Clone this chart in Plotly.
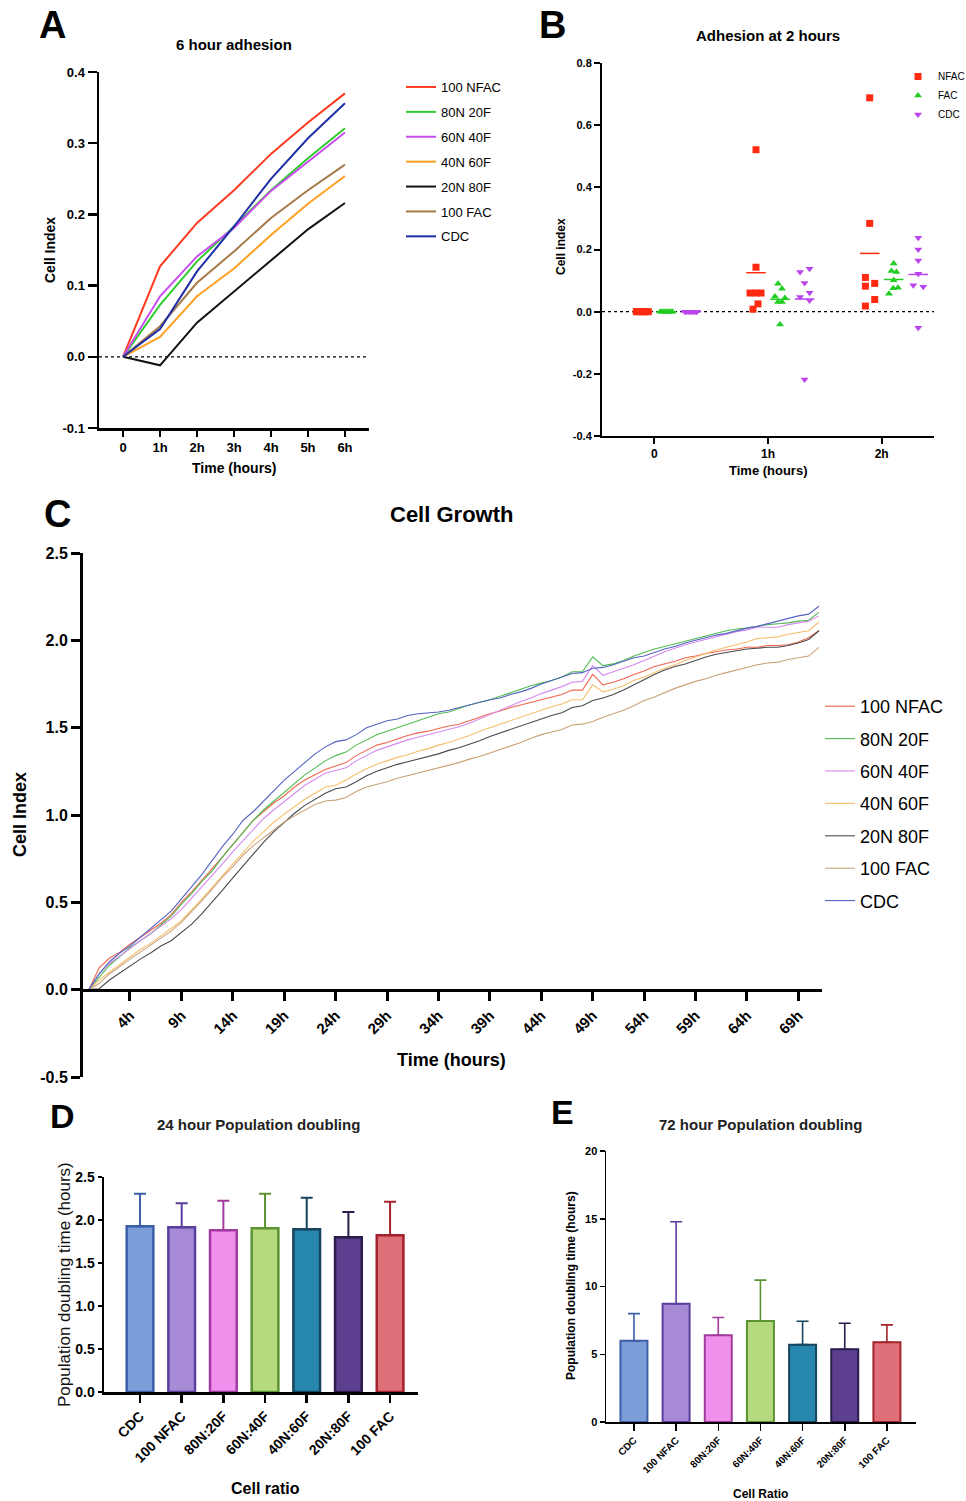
import plotly.graph_objects as go
import numpy as np

W, H = 966, 1501
def X(px): return px / W
def Y(py): return 1 - py / H

FONT = "Liberation Sans, Arial, sans-serif"

# ---------------- Panel A data ----------------
A_TIMES = ["0", "1h", "2h", "3h", "4h", "5h", "6h"]
A_NAMES = ["100 NFAC", "80N 20F", "60N 40F", "40N 60F", "20N 80F", "100 FAC", "CDC"]
A_100NFAC = [0, 0.127, 0.188, 0.234, 0.285, 0.329, 0.370]
A_80N20F = [0, 0.073, 0.134, 0.183, 0.234, 0.279, 0.321]
A_60N40F = [0, 0.085, 0.141, 0.181, 0.233, 0.274, 0.315]
A_40N60F = [0, 0.028, 0.085, 0.124, 0.171, 0.215, 0.254]
A_20N80F = [0, -0.012, 0.048, 0.092, 0.136, 0.179, 0.216]
A_100FAC = [0, 0.043, 0.104, 0.148, 0.195, 0.234, 0.270]
A_CDC = [0, 0.039, 0.120, 0.183, 0.250, 0.307, 0.356]
A_YTICKS = [-0.1, 0.0, 0.1, 0.2, 0.3, 0.4]
A_COLORS = ["#FF3A20", "#2ECC2E", "#C94CF0", "#FFA022", "#111111", "#A57A48", "#1F2FA8"]

# ---------------- Panel B data ----------------
B_GROUPS = ["0", "1h", "2h"]
B_NAMES = ["NFAC", "FAC", "CDC"]
B_NFAC = [[0, 0, 0, 0, 0, 0, 0],
          [0.521, 0.143, 0.060, 0.060, 0.060, 0.025, 0.008],
          [0.688, 0.284, 0.110, 0.082, 0.091, 0.039, 0.018]]
B_FAC = [[0, 0, 0, 0, 0, 0, 0],
         [0.090, 0.074, 0.049, 0.044, 0.031, 0.031, -0.041],
         [0.155, 0.131, 0.128, 0.101, 0.077, 0.075, 0.058]]
B_CDC = [[0, 0, 0, 0, 0, 0, 0],
         [0.128, 0.138, 0.092, 0.061, 0.047, 0.036, -0.218],
         [0.238, 0.200, 0.165, 0.122, 0.085, 0.080, -0.052]]
B_YTICKS = [-0.4, -0.2, 0.0, 0.2, 0.4, 0.6, 0.8]
B_COLORS = ["#FF2A10", "#22CC22", "#BB44EE"]
B_SYMBOLS = ["square", "triangle-up", "triangle-down"]
# style: horizontal placement (pixels) of each series and point spread
B_SERIES_OFFSET_PX = [-12, 12, 36.6]
B_SPREAD_PX = {
    "NFAC": [[-6, -4, -2, 0, 2, 4, 6], [0, 0, -6, 0, 5, 2, -3], [0, 0, -4.3, -4.3, 5, 5, -4.3]],
    "FAC": [[-6, -4, -2, 0, 2, 4, 6], [-2, 2, -5, 5, -2, 2, 0], [0, -2.3, 2.7, 0, 4.3, -0.5, -4.7]],
    "CDC": [[-6, -4, -2, 0, 2, 4, 6], [-4.5, 5, 0, 5, -4.5, 5, 0], [0, 0, 0, 0, -5, 5, 0]],
}
B_PX_PER_UNIT = 113.8

# ---------------- Panel C data ----------------
C_HOURS = list(range(72))
C_TICKS = [4, 9, 14, 19, 24, 29, 34, 39, 44, 49, 54, 59, 64, 69]
C_TICKTEXT = [f"{t}h" for t in C_TICKS]
C_YTICKS = [-0.5, 0.0, 0.5, 1.0, 1.5, 2.0, 2.5]
C_100NFAC = [0, 0.125, 0.18, 0.215, 0.26, 0.30, 0.34, 0.38, 0.43, 0.50,
             0.56, 0.625, 0.69, 0.76, 0.83, 0.90, 0.97, 1.02, 1.07, 1.11,
             1.16, 1.20, 1.23, 1.26, 1.28, 1.30, 1.34, 1.37, 1.40, 1.415,
             1.435, 1.455, 1.47, 1.48, 1.495, 1.51, 1.52, 1.54, 1.56, 1.58,
             1.595, 1.615, 1.63, 1.645, 1.66, 1.675, 1.69, 1.715, 1.715, 1.805,
             1.745, 1.76, 1.78, 1.805, 1.825, 1.85, 1.865, 1.88, 1.90, 1.91,
             1.925, 1.935, 1.945, 1.95, 1.96, 1.96, 1.97, 1.97, 1.975, 1.99,
             2.015, 2.055]
C_80N20F = [0, 0.07, 0.14, 0.19, 0.24, 0.28, 0.32, 0.37, 0.42, 0.49,
            0.55, 0.62, 0.68, 0.76, 0.83, 0.90, 0.97, 1.03, 1.08, 1.135,
            1.18, 1.23, 1.27, 1.31, 1.34, 1.36, 1.40, 1.43, 1.46, 1.48,
            1.50, 1.52, 1.54, 1.56, 1.58, 1.59, 1.61, 1.63, 1.645, 1.66,
            1.68, 1.70, 1.72, 1.74, 1.755, 1.77, 1.79, 1.82, 1.82, 1.905,
            1.855, 1.865, 1.885, 1.91, 1.93, 1.95, 1.965, 1.98, 1.995, 2.01,
            2.025, 2.04, 2.055, 2.065, 2.07, 2.08, 2.09, 2.095, 2.10, 2.11,
            2.115, 2.16]
C_60N40F = [0, 0.09, 0.15, 0.19, 0.235, 0.28, 0.32, 0.36, 0.405, 0.46,
            0.525, 0.585, 0.655, 0.72, 0.79, 0.855, 0.92, 0.98, 1.03, 1.075,
            1.125, 1.17, 1.205, 1.24, 1.255, 1.27, 1.31, 1.34, 1.37, 1.39,
            1.41, 1.43, 1.445, 1.46, 1.475, 1.49, 1.505, 1.525, 1.55, 1.575,
            1.60, 1.625, 1.65, 1.67, 1.695, 1.715, 1.735, 1.76, 1.765, 1.855,
            1.80, 1.82, 1.84, 1.86, 1.885, 1.91, 1.935, 1.955, 1.975, 1.99,
            2.005, 2.02, 2.035, 2.05, 2.06, 2.075, 2.075, 2.075, 2.09, 2.10,
            2.11, 2.14]
C_40N60F = [0, 0.055, 0.10, 0.145, 0.185, 0.23, 0.265, 0.305, 0.35, 0.395,
            0.455, 0.52, 0.585, 0.655, 0.72, 0.785, 0.85, 0.905, 0.96, 1.005,
            1.05, 1.09, 1.125, 1.16, 1.17, 1.20, 1.235, 1.265, 1.29, 1.31,
            1.33, 1.345, 1.365, 1.38, 1.40, 1.415, 1.435, 1.455, 1.48, 1.50,
            1.52, 1.54, 1.56, 1.58, 1.60, 1.62, 1.635, 1.66, 1.66, 1.745,
            1.705, 1.72, 1.74, 1.77, 1.79, 1.815, 1.84, 1.86, 1.885, 1.905,
            1.925, 1.945, 1.96, 1.975, 1.99, 2.01, 2.015, 2.02, 2.035, 2.045,
            2.055, 2.105]
C_20N80F = [0, 0.005, 0.055, 0.095, 0.14, 0.175, 0.21, 0.25, 0.28, 0.325,
            0.375, 0.435, 0.50, 0.57, 0.64, 0.71, 0.78, 0.845, 0.905, 0.96,
            1.01, 1.055, 1.09, 1.125, 1.15, 1.16, 1.19, 1.225, 1.25, 1.27,
            1.29, 1.305, 1.32, 1.335, 1.35, 1.37, 1.385, 1.405, 1.425, 1.45,
            1.47, 1.49, 1.51, 1.53, 1.55, 1.57, 1.585, 1.615, 1.625, 1.655,
            1.67, 1.69, 1.715, 1.745, 1.775, 1.805, 1.83, 1.85, 1.865, 1.885,
            1.905, 1.92, 1.93, 1.94, 1.95, 1.955, 1.96, 1.96, 1.97, 1.985,
            2.005, 2.055]
C_100FAC = [0, 0.035, 0.09, 0.135, 0.175, 0.215, 0.255, 0.29, 0.335, 0.385,
            0.445, 0.51, 0.575, 0.645, 0.705, 0.77, 0.825, 0.87, 0.915, 0.96,
            0.995, 1.03, 1.06, 1.08, 1.085, 1.10, 1.135, 1.16, 1.175, 1.19,
            1.21, 1.225, 1.24, 1.255, 1.27, 1.285, 1.30, 1.32, 1.335, 1.355,
            1.375, 1.395, 1.415, 1.44, 1.46, 1.475, 1.49, 1.515, 1.52, 1.535,
            1.56, 1.58, 1.60, 1.625, 1.655, 1.675, 1.70, 1.725, 1.745, 1.765,
            1.78, 1.80, 1.815, 1.83, 1.845, 1.86, 1.87, 1.875, 1.89, 1.90,
            1.91, 1.96]
C_CDC = [0, 0.09, 0.16, 0.21, 0.25, 0.30, 0.35, 0.40, 0.45, 0.52,
         0.59, 0.66, 0.74, 0.82, 0.89, 0.97, 1.02, 1.08, 1.14, 1.20,
         1.25, 1.30, 1.35, 1.39, 1.42, 1.43, 1.46, 1.50, 1.52, 1.54,
         1.55, 1.57, 1.58, 1.585, 1.59, 1.60, 1.615, 1.63, 1.645, 1.66,
         1.67, 1.69, 1.705, 1.725, 1.75, 1.77, 1.79, 1.81, 1.815, 1.84,
         1.845, 1.86, 1.88, 1.90, 1.91, 1.93, 1.95, 1.965, 1.985, 2.0,
         2.015, 2.03, 2.04, 2.055, 2.07, 2.08, 2.095, 2.11, 2.125, 2.14,
         2.15, 2.195]
C_COLORS = ["#EE6650", "#50BB50", "#D58AF0", "#F6BE6A", "#4A4A4A", "#C9A27A", "#5563C1"]

# ---------------- Panel D / E data ----------------
DE_CATS = ["CDC", "100 NFAC", "80N:20F", "60N:40F", "40N:60F", "20N:80F", "100 FAC"]
D_MEAN = [1.926, 1.915, 1.880, 1.903, 1.891, 1.798, 1.822]
D_UPPER = [2.306, 2.194, 2.225, 2.306, 2.260, 2.093, 2.213]
E_MEAN = [5.99, 8.72, 6.40, 7.46, 5.71, 5.37, 5.89]
E_UPPER = [8.00, 14.78, 7.71, 10.47, 7.44, 7.29, 7.17]
DE_FILL = ["#7B9ED9", "#A68AD6", "#EE90EC", "#B5DB7E", "#2787AF", "#5C3F8E", "#DF6F78"]
DE_LINE = ["#3D5FA8", "#5B3F9E", "#A33AA0", "#5C9434", "#17455F", "#2B1C4B", "#A3222C"]

def fmt(v):
    return f"{v:.1f}"

fig = go.Figure()

# ---- Panel A traces ----
A_VALUES = [A_100NFAC, A_80N20F, A_60N40F, A_40N60F, A_20N80F, A_100FAC, A_CDC]
for i, (name, vals) in enumerate(zip(A_NAMES, A_VALUES)):
    fig.add_trace(go.Scatter(x=A_TIMES, y=vals, mode="lines", name=name,
                             line=dict(color=A_COLORS[i], width=2),
                             xaxis="x", yaxis="y", legend="legend",
                             legendgroup=f"a{i}"))

# ---- Panel B traces ----
B_VALUES = {"NFAC": B_NFAC, "FAC": B_FAC, "CDC": B_CDC}
for s, name in enumerate(B_NAMES):
    xs, ys, mx, my = [], [], [], []
    for g in range(len(B_GROUPS)):
        vals = B_VALUES[name][g]
        spread = B_SPREAD_PX[name][g]
        for v, sp in zip(vals, spread):
            xs.append(g + (B_SERIES_OFFSET_PX[s] + sp) / B_PX_PER_UNIT)
            ys.append(v)
        mx.append(g + B_SERIES_OFFSET_PX[s] / B_PX_PER_UNIT)
        my.append(float(np.mean(vals)))
    fig.add_trace(go.Scatter(x=xs, y=ys, mode="markers", name=name,
                             marker=dict(symbol=B_SYMBOLS[s], size=7, color=B_COLORS[s]),
                             xaxis="x2", yaxis="y2", legend="legend2",
                             legendgroup=f"b{s}"))
    fig.add_trace(go.Scatter(x=mx, y=my, mode="markers", showlegend=False,
                             marker=dict(symbol="line-ew", size=14,
                                         line=dict(color=B_COLORS[s], width=1.5)),
                             xaxis="x2", yaxis="y2"))

# ---- Panel C traces ----
C_VALUES = [C_100NFAC, C_80N20F, C_60N40F, C_40N60F, C_20N80F, C_100FAC, C_CDC]
for i, (name, vals) in enumerate(zip(A_NAMES, C_VALUES)):
    fig.add_trace(go.Scatter(x=C_HOURS, y=vals, mode="lines", name=name,
                             line=dict(color=C_COLORS[i], width=1.1),
                             xaxis="x3", yaxis="y3", legend="legend3",
                             legendgroup=f"c{i}"))

# ---- Panel D / E bars ----
for ax, means, uppers in (("4", D_MEAN, D_UPPER), ("5", E_MEAN, E_UPPER)):
    for i, cat in enumerate(DE_CATS):
        fig.add_trace(go.Bar(
            x=[cat], y=[means[i]], width=0.64, showlegend=False,
            marker=dict(color=DE_FILL[i], line=dict(color=DE_LINE[i], width=2.5 if ax == "4" else 2)),
            error_y=dict(type="data", symmetric=False, array=[uppers[i] - means[i]],
                         arrayminus=[0], color=DE_LINE[i],
                         thickness=2 if ax == "4" else 1.6, width=6),
            xaxis="x" + ax, yaxis="y" + ax))

bold = dict(family=FONT, color="black", weight="bold")

def axis_common(lw):
    return dict(showgrid=False, zeroline=False, showline=True, linecolor="black",
                linewidth=lw, ticks="outside", tickcolor="black", tickwidth=lw,
                automargin=False)

layout = dict(
    template="none",
    width=W, height=H, margin=dict(l=0, r=0, t=0, b=0, pad=0, autoexpand=False),
    paper_bgcolor="white", plot_bgcolor="white", hovermode=False,
    barmode="overlay", font=dict(family=FONT, color="black"),
    # Panel A
    xaxis=dict(domain=[X(99), X(369)], anchor="y", type="category",
               range=[-0.65, 6.65], ticklen=6, tickfont=dict(size=13, **bold),
               **axis_common(2.5)),
    yaxis=dict(domain=[Y(428), Y(72)], anchor="x", range=[-0.1, 0.4],
               tickvals=A_YTICKS, ticktext=[fmt(v) for v in A_YTICKS],
               ticklen=9, tickfont=dict(size=13, **bold), **axis_common(2.5)),
    # Panel B
    xaxis2=dict(domain=[X(602), X(934)], anchor="y2", range=[-0.46, 2.46],
                tickvals=[0, 1, 2], ticktext=B_GROUPS, ticklen=6,
                tickfont=dict(size=12, **bold), **axis_common(2)),
    yaxis2=dict(domain=[Y(436), Y(63)], anchor="x2", range=[-0.4, 0.8],
                tickvals=B_YTICKS, ticktext=[fmt(v) for v in B_YTICKS], ticklen=6,
                tickfont=dict(size=11, **bold), **axis_common(2)),
    # Panel C
    xaxis3=dict(domain=[X(83), X(822)], anchor="free", position=Y(990),
                range=[-0.57, 71.3], tickvals=C_TICKS, ticktext=C_TICKTEXT,
                tickangle=-45, ticklen=9, tickfont=dict(size=15, **bold),
                **axis_common(3)),
    yaxis3=dict(domain=[Y(1077), Y(553)], anchor="x3", range=[-0.5, 2.5],
                tickvals=C_YTICKS, ticktext=[fmt(v) for v in C_YTICKS], ticklen=9,
                tickfont=dict(size=16, **bold), **axis_common(3)),
    # Panel D
    xaxis4=dict(domain=[X(104), X(418)], anchor="y4", type="category",
                range=[-0.864, 6.67], tickangle=-45, ticklen=8,
                tickfont=dict(size=14, **bold), **axis_common(2.5)),
    yaxis4=dict(domain=[Y(1392), Y(1177)], anchor="x4", range=[0, 2.5],
                dtick=0.5, tickformat=".1f", ticklen=4,
                tickfont=dict(size=14, **bold), **axis_common(2.5)),
    # Panel E
    xaxis5=dict(domain=[X(606), X(916)], anchor="y5", type="category",
                range=[-0.663, 6.69], tickangle=-45, ticklen=7,
                tickfont=dict(size=10, **bold), **axis_common(1.5)),
    yaxis5=dict(domain=[Y(1422), Y(1151)], anchor="x5", range=[0, 20],
                dtick=5, ticklen=5, tickfont=dict(size=11, **bold),
                **axis_common(1.5)),
    legend=dict(x=X(401), y=Y(72), xanchor="left", yanchor="top",
                font=dict(size=13, family=FONT, color="black"),
                tracegroupgap=5, bgcolor="rgba(0,0,0,0)"),
    legend2=dict(x=X(898), y=Y(62), xanchor="left", yanchor="top",
                 font=dict(size=10, family=FONT, color="black"),
                 tracegroupgap=0, bgcolor="rgba(0,0,0,0)"),
    legend3=dict(x=X(820), y=Y(688), xanchor="left", yanchor="top",
                 font=dict(size=18, family=FONT, color="black"),
                 tracegroupgap=6, bgcolor="rgba(0,0,0,0)"),
)
fig.update_layout(**layout)

# zero reference lines (dotted) in A and B
for xr, yr in (("x domain", "y"), ("x2 domain", "y2")):
    fig.add_shape(type="line", xref=xr, yref=yr, x0=0, x1=1, y0=0, y1=0,
                  line=dict(color="black", width=1.2, dash="dot"), layer="below")

def ann(text, px, py, size, angle=0, weight=True, color="black"):
    fig.add_annotation(text=f"<b>{text}</b>" if weight else text,
                       x=X(px), y=Y(py), xref="paper", yref="paper",
                       showarrow=False, textangle=angle,
                       xanchor="center", yanchor="middle",
                       font=dict(size=size, family=FONT, color=color))

# panel letters
ann("A", 52, 25, 38)
ann("B", 552, 25, 38)
ann("C", 57, 514, 38)
ann("D", 62, 1116, 34)
ann("E", 562, 1112, 34)
# titles
ann("6 hour adhesion", 234, 44, 15)
ann("Adhesion at 2 hours", 768, 36, 15)
ann("Cell Growth", 451, 514, 22)
ann("24 hour Population doubling", 258, 1124, 15, color="#222")
ann("72 hour Population doubling", 760, 1124, 15, color="#222")
# axis titles
ann("Cell Index", 50, 250, 14, angle=-90)
ann("Time (hours)", 234, 468, 14)
ann("Cell index", 561, 247, 12, angle=-90)
ann("Time (hours)", 768, 471, 13)
ann("Cell Index", 20, 815, 18, angle=-90)
ann("Time (hours)", 451, 1060, 18)
ann("Population doubling time (hours)", 64, 1285, 17, angle=-90, weight=False, color="#111")
ann("Cell ratio", 265, 1488, 16)
ann("Population doubling time (hours)", 571, 1286, 12, angle=-90)
ann("Cell Ratio", 760, 1494, 12)

# remove the default page margin so the 966x1501 figure fills the window exactly
PAGE_CSS_JS = ("document.documentElement.style.margin='0';"
               "document.documentElement.style.overflow='hidden';"
               "document.body.style.margin='0';"
               "document.body.style.overflow='hidden';")

fig.write_html("out.html", post_script=PAGE_CSS_JS,
               config={"displayModeBar": False, "staticPlot": True})
